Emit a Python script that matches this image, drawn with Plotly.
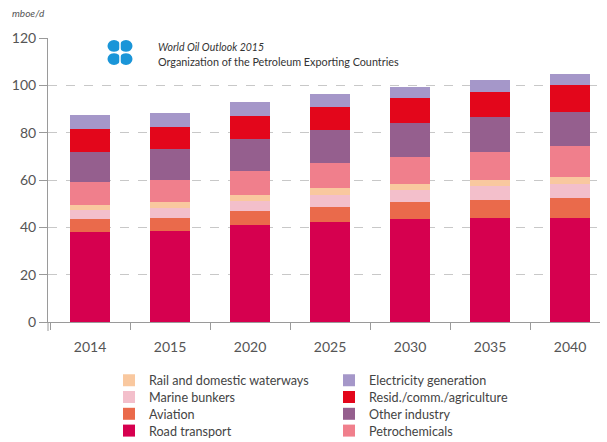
import plotly.graph_objects as go

years = ["2014", "2015", "2020", "2025", "2030", "2035", "2040"]

road = [38.0, 38.3, 40.9, 42.3, 43.7, 44.1, 44.1]
aviation = [5.4, 5.7, 5.9, 6.5, 6.8, 7.5, 8.2]
marine = [3.8, 4.1, 4.4, 4.8, 5.2, 5.7, 6.0]
rail = [2.2, 2.4, 2.6, 2.9, 2.6, 2.8, 2.8]
petchem = [9.6, 9.5, 10.2, 10.7, 11.6, 11.9, 13.1]
other_ind = [13.0, 12.9, 13.4, 14.1, 14.2, 14.5, 14.6]
resid = [9.4, 9.4, 9.5, 9.6, 10.4, 10.6, 11.3]
elec = [6.0, 6.1, 5.9, 5.4, 4.9, 5.0, 4.7]

# name, values, colour, legend column, legend row
series = [
    ("Road transport", road, "#d6004f", 0, 3),
    ("Aviation", aviation, "#ea6a4b", 0, 2),
    ("Marine bunkers", marine, "#f3bfcb", 0, 1),
    ("Rail and domestic waterways", rail, "#f9c89f", 0, 0),
    ("Petrochemicals", petchem, "#f07f8c", 1, 3),
    ("Other industry", other_ind, "#955f8e", 1, 2),
    ("Resid./comm./agriculture", resid, "#e3061b", 1, 1),
    ("Electricity generation", elec, "#a597c9", 1, 0),
]

FONT = "Lato, Open Sans, sans-serif"
L, T, B = 48, 38, 120
W, H = 607, 442
PW, PH = W - L - 7, H - T - B

def px_x(px):
    return (px - L) / PW

def px_y(py):
    return (H - B - py) / PH

fig = go.Figure()
legend_defs = {}
for i, (name, vals, color, col, row) in enumerate(series):
    lg = "legend" if i == 0 else f"legend{i+1}"
    fig.add_trace(go.Bar(x=years, y=vals, name=name, marker=dict(color=color, line=dict(width=0)),
                         legend=lg))
    legend_defs[lg] = dict(
        x=px_x(109 if col == 0 else 329), y=px_y(380.5 + row * 16.8),
        xanchor="left", yanchor="middle",
        font=dict(size=12.6, color="#444444", family=FONT), itemwidth=30,
        bgcolor="rgba(0,0,0,0)", borderwidth=0)

# invisible trace on y2 to carry the dashed grid
fig.add_trace(go.Scatter(x=years, y=[None]*len(years), yaxis="y2", showlegend=False, hoverinfo="skip"))

fig.update_layout(
    width=W, height=H,
    margin=dict(l=L, r=7, t=T, b=B, autoexpand=False),
    paper_bgcolor="white", plot_bgcolor="white",
    barmode="stack", bargap=0.5,
    font=dict(family=FONT, color="#555555", size=14),
    xaxis=dict(range=[-0.525, 6.375], showline=True, linecolor="#9a9a9a", linewidth=1,
               ticks="outside", tickson="boundaries", ticklen=7, tickcolor="#9a9a9a",
               ticklabelstandoff=12,
               showgrid=False, tickfont=dict(size=14, color="#555555")),
    yaxis=dict(range=[0, 120], tickvals=[0, 20, 40, 60, 80, 100, 120], showline=True,
               linecolor="#9a9a9a", linewidth=1, ticks="outside", ticklen=8, tickcolor="#9a9a9a",
               showgrid=False, zeroline=False, tickfont=dict(size=14, color="#555555")),
    yaxis2=dict(range=[0, 120], overlaying="y", tickvals=[20, 40, 60, 80, 100],
                showticklabels=False, showgrid=True, gridcolor="#c8c8c8", griddash="dash",
                gridwidth=1, zeroline=False, showline=False),
    showlegend=True,
    **legend_defs,
)

fig.add_annotation(text="<i>mboe/d</i>", xref="paper", yref="paper", x=px_x(10), y=px_y(13),
                   xanchor="left", yanchor="middle", showarrow=False,
                   font=dict(size=10, color="#555555", family=FONT))
fig.add_annotation(text="<i>World Oil Outlook 2015</i>", xref="paper", yref="paper",
                   x=px_x(156), y=px_y(47), xanchor="left", yanchor="middle",
                   showarrow=False, font=dict(size=10.5, color="#333333", family=FONT))
fig.add_annotation(text="Organization of the Petroleum Exporting Countries", xref="paper", yref="paper",
                   x=px_x(156), y=px_y(61), xanchor="left", yanchor="middle",
                   showarrow=False, font=dict(size=10.8, color="#333333", family=FONT))

# simple OPEC-style logo mark
blue = "#1a95d8"
for cx, cy in [(114, 46), (126, 46), (114, 59), (126, 59)]:
    fig.add_shape(type="circle", xref="paper", yref="paper",
                  x0=px_x(cx - 6.5), x1=px_x(cx + 6.5),
                  y0=px_y(cy + 6), y1=px_y(cy - 6),
                  fillcolor=blue, line=dict(width=0), layer="above")
fig.add_shape(type="line", xref="paper", yref="paper", x0=px_x(120), x1=px_x(120),
              y0=px_y(66), y1=px_y(39), line=dict(color="white", width=1.5))
fig.add_shape(type="line", xref="paper", yref="paper", x0=px_x(106), x1=px_x(134),
              y0=px_y(52.5), y1=px_y(52.5), line=dict(color="white", width=1.5))
# short extension of the value axis below zero, as in the original
fig.add_shape(type="line", xref="paper", yref="paper", x0=0, x1=0,
              y0=px_y(331), y1=0, line=dict(color="#9a9a9a", width=1))

fig.write_html("out.html")
